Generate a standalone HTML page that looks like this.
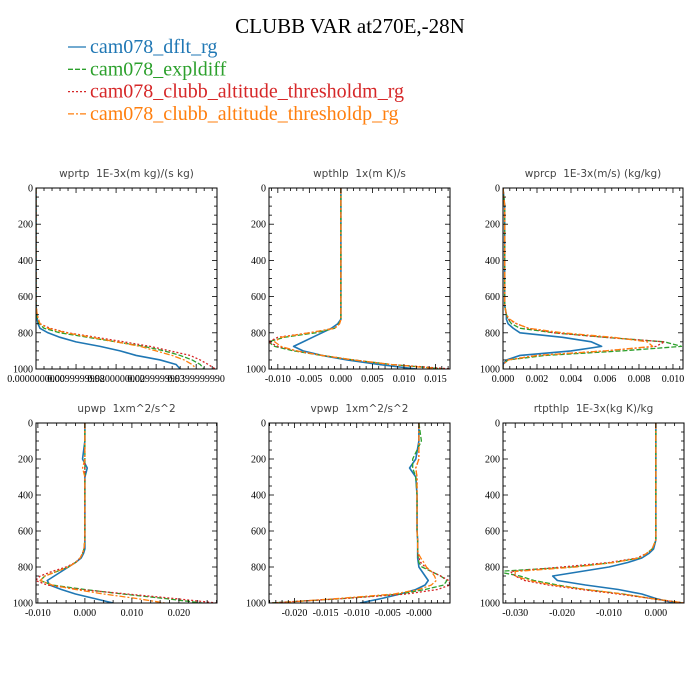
<!DOCTYPE html>
<html><head><meta charset="utf-8"><style>
body{margin:0;background:#fff;}
svg{display:block;}
</style></head><body>
<svg id="chart" width="700" height="700" viewBox="0 0 700 700" xmlns="http://www.w3.org/2000/svg">
<rect width="700" height="700" fill="#fff"/>
<text x="350" y="33" text-anchor="middle" font-family="Liberation Serif, serif" font-size="21">CLUBB VAR at270E,-28N</text>
<g id="legend"></g>
<g id="panels"></g>
</svg>
<script>
const levels = [0,100,200,250,300,400,500,600,650,700,725,750,775,800,825,850,875,900,925,950,975,1000];
const seriesNames = ["cam078_dflt_rg","cam078_expldiff","cam078_clubb_altitude_thresholdm_rg","cam078_clubb_altitude_thresholdp_rg"];

const wprtpBlue   = [0,0,0,0,0,0,0,0,0,0.0002,0.0003,0.0005,0.001,0.003,0.006,0.010,0.016,0.021,0.025,0.031,0.035,0.036];
const wprtpGreen  = [0,0,0,0,0,0,0,0,0,0.0002,0.0004,0.0008,0.002,0.006,0.013,0.020,0.027,0.032,0.036,0.039,0.041,0.042];
const wprtpRed    = [0,0,0,0,0,0,0,0,0,0.0003,0.0006,0.001,0.0035,0.008,0.015,0.022,0.0285,0.0335,0.0385,0.041,0.043,0.0448];
const wprtpOrange = [0,0,0,0,0,0,0,0,0,0.0003,0.0006,0.001,0.003,0.0075,0.014,0.020,0.026,0.030,0.034,0.037,0.039,0.040];

const wpthlpBlue   = [0,0,0,0,0,0,0,0,0,0,0,-0.0005,-0.0015,-0.003,-0.0045,-0.006,-0.0075,-0.006,-0.003,0.001,0.006,0.012];
const wpthlpGreen  = [0,0,0,0,0,0,0,0,0,0,0,-0.0003,-0.001,-0.004,-0.009,-0.0115,-0.0105,-0.0075,-0.003,0.002,0.008,0.0165];
const wpthlpRed    = [0,0,0,0,0,0,0,0,0,0,0,-0.0002,-0.001,-0.005,-0.010,-0.0115,-0.010,-0.007,-0.003,0.002,0.008,0.0175];
const wpthlpOrange = [0,0,0,0,0,0,0,0,0,0,0,-0.0002,-0.001,-0.005,-0.0095,-0.0105,-0.0095,-0.007,-0.003,0.002,0.008,0.016];

const wprcpBlue   = [0,0.0001,0.0001,0.0001,0.0001,0.0001,0.0001,0.0001,0.0001,0.0002,0.0002,0.0003,0.0006,0.001,0.0035,0.0052,0.0058,0.004,0.001,0.0002,0,0];
const wprcpGreen  = [0,0.0001,0.0001,0.0001,0.0001,0.0001,0.0001,0.0001,0.0001,0.0002,0.0003,0.0005,0.001,0.003,0.006,0.0095,0.0105,0.007,0.0025,0.0003,0,0];
const wprcpRed    = [0,0.0001,0.0001,0.0001,0.0001,0.0001,0.0001,0.0001,0.0001,0.0002,0.0003,0.0008,0.0015,0.003,0.006,0.0095,0.009,0.006,0.002,0.0003,0,0];
const wprcpOrange = [0,0.0001,0.0001,0.0001,0.0001,0.0001,0.0001,0.0001,0.0001,0.0002,0.0004,0.0008,0.0015,0.0035,0.0065,0.0085,0.0088,0.006,0.002,0.0003,0,0];

const upwpBlue   = [0,0,-0.0005,0.0005,0,0,0,0,0,0,-0.0003,-0.0008,-0.002,-0.0035,-0.005,-0.0065,-0.008,-0.0075,-0.005,-0.002,0.002,0.006];
const upwpGreen  = [0,0,0,0,0,0,0,0,0,-0.0002,-0.0005,-0.001,-0.002,-0.0035,-0.006,-0.0085,-0.0095,-0.007,0,0.008,0.017,0.025];
const upwpRed    = [0,0,0,0,0,0,0,0,0,-0.0002,-0.0005,-0.001,-0.002,-0.004,-0.007,-0.0095,-0.0105,-0.008,-0.001,0.009,0.019,0.028];
const upwpOrange = [0,0,0,-0.0005,0,0,0,0,0,-0.0002,-0.0005,-0.001,-0.002,-0.0035,-0.006,-0.0085,-0.0095,-0.007,-0.002,0.004,0.011,0.017];

const vpwpBlue   = [0,0,-0.0005,-0.0015,-0.0005,-0.0003,-0.0003,-0.0003,-0.0002,-0.0002,-0.0002,-0.0002,-0.0001,0,0.0005,0.001,0.0015,0.001,-0.0005,-0.003,-0.006,-0.0095];
const vpwpGreen  = [0,0.0004,-0.001,-0.001,-0.0005,-0.0003,-0.0003,-0.0003,-0.0002,-0.0002,-0.0002,-0.0001,0,0.0005,0.002,0.0035,0.0045,0.004,0.001,-0.003,-0.012,-0.024];
const vpwpRed    = [0,0,0,-0.0005,-0.0003,-0.0003,-0.0003,-0.0003,-0.0002,-0.0002,-0.0002,0,0.0003,0.001,0.002,0.0035,0.0048,0.005,0.003,-0.002,-0.012,-0.024];
const vpwpOrange = [0,0,0,-0.0005,-0.0003,-0.0003,-0.0003,-0.0003,-0.0002,-0.0002,-0.0001,0.0003,0.0008,0.0012,0.002,0.0025,0.0028,0.002,0,-0.004,-0.013,-0.023];

const rtpthlpBlue   = [0,0,0,0,0,0,0,0,0,-0.0005,-0.0015,-0.003,-0.006,-0.010,-0.016,-0.022,-0.021,-0.015,-0.008,-0.003,0,0.004];
const rtpthlpGreen  = [0,0,0,0,0,0,0,0,0,-0.0008,-0.002,-0.0035,-0.009,-0.018,-0.034,-0.029,-0.026,-0.021,-0.015,-0.007,-0.001,0.006];
const rtpthlpRed    = [0,0,0,0,0,0,0,0,0,-0.0008,-0.002,-0.004,-0.010,-0.020,-0.031,-0.030,-0.028,-0.023,-0.016,-0.008,-0.001,0.006];
const rtpthlpOrange = [0,0,0,0,0,0,0,0,0,-0.0008,-0.002,-0.0035,-0.009,-0.017,-0.030,-0.030,-0.027,-0.022,-0.015,-0.007,-0.001,0.006];

const yTicks = [0,200,400,600,800,1000];
const ticks1 = ["0.0000000000","0.0099999998","0.0200000000","0.0299999993","0.0399999990"];
const ticks2 = ["-0.010","-0.005","0.000","0.005","0.010","0.015"];
const ticks3 = ["0.000","0.002","0.004","0.006","0.008","0.010"];
const ticks4 = ["-0.010","0.000","0.010","0.020"];
const ticks5 = ["-0.020","-0.015","-0.010","-0.005","-0.000"];
const ticks6 = ["-0.030","-0.020","-0.010","0.000"];

const colors = ["#1f77b4","#2ca02c","#d62728","#ff7f0e"];
const dashes = ["none","5,2","2,2","6,2,2,2"];
const NS = "http://www.w3.org/2000/svg";
const svg = document.getElementById('chart');
const panelsG = document.getElementById('panels');
const legendG = document.getElementById('legend');

function mk(tag, attrs, parent){const e=document.createElementNS(NS,tag);for(const k in attrs)e.setAttribute(k,attrs[k]);parent.appendChild(e);return e;}

seriesNames.forEach((n,i)=>{
  const y=53+i*22.3;
  const ln=mk('line',{x1:68,x2:86,y1:y-6,y2:y-6,stroke:colors[i],'stroke-width':1.3,'stroke-dasharray':dashes[i]},legendG);
  
  
  const t=mk('text',{x:90,y:y,'font-family':'Liberation Serif, serif','font-size':20,fill:colors[i]},legendG);
  t.textContent=n;
  
  
});

const panels = [
 {name:'wprtp',title:'wprtp  1E-3x(m kg)/(s kg)',x0:36,x1:217,y0:188,y1:369,xmin:0,xmax:0.0452,t0:0,step:0.01,labels:ticks1,series:[wprtpBlue,wprtpGreen,wprtpRed,wprtpOrange]},
 {name:'wpthlp',title:'wpthlp  1x(m K)/s',x0:269,x1:450,y0:188,y1:369,xmin:-0.0114,xmax:0.0173,t0:-0.010,step:0.005,labels:ticks2,series:[wpthlpBlue,wpthlpGreen,wpthlpRed,wpthlpOrange]},
 {name:'wprcp',title:'wprcp  1E-3x(m/s) (kg/kg)',x0:503,x1:683,y0:188,y1:369,xmin:0,xmax:0.01059,t0:0,step:0.002,labels:ticks3,series:[wprcpBlue,wprcpGreen,wprcpRed,wprcpOrange]},
 {name:'upwp',title:'upwp  1xm^2/s^2',x0:36,x1:217,y0:423,y1:603,xmin:-0.0104,xmax:0.0281,t0:-0.010,step:0.01,labels:ticks4,series:[upwpBlue,upwpGreen,upwpRed,upwpOrange]},
 {name:'vpwp',title:'vpwp  1xm^2/s^2',x0:269,x1:450,y0:423,y1:603,xmin:-0.0241,xmax:0.005,t0:-0.020,step:0.005,labels:ticks5,series:[vpwpBlue,vpwpGreen,vpwpRed,vpwpOrange]},
 {name:'rtpthlp',title:'rtpthlp  1E-3x(kg K)/kg',x0:503,x1:684,y0:423,y1:603,xmin:-0.0326,xmax:0.006,t0:-0.030,step:0.01,labels:ticks6,series:[rtpthlpBlue,rtpthlpGreen,rtpthlpRed,rtpthlpOrange]}
];

panels.forEach((p,pi)=>{
  const g=mk('g',{},panelsG);
  
  
  const xs=v=>p.x0+(v-p.xmin)/(p.xmax-p.xmin)*(p.x1-p.x0);
  const ys=v=>p.y0+v/1000*(p.y1-p.y0);
  const tt=mk('text',{x:(p.x0+p.x1)/2,y:p.y0-11,'text-anchor':'middle','font-family':'DejaVu Sans, sans-serif','font-size':10.5,fill:'#444','xml:space':'preserve','style':'white-space:pre'},g);
  tt.textContent=p.title;
  
  
  const cid='clip'+pi;
  const cp=mk('clipPath',{id:cid},g);
  mk('rect',{x:p.x0,y:p.y0,width:p.x1-p.x0,height:p.y1-p.y0},cp);
  p.series.forEach((s,si)=>{
    const pts=s.map((v,i)=>xs(v).toFixed(2)+','+ys(levels[i]).toFixed(2)).join(' ');
    const pl=mk('polyline',{points:pts,fill:'none',stroke:colors[si],'stroke-width':si==0?1.6:1.3,'stroke-dasharray':dashes[si],'clip-path':'url(#'+cid+')','stroke-linejoin':'round'},g);
    
    
  });
  const fr=mk('rect',{x:p.x0,y:p.y0,width:p.x1-p.x0,height:p.y1-p.y0,fill:'none',stroke:'#000','stroke-width':1},g);
  
  
  for(let v=0;v<=1000;v+=50){
    const L=(v%200==0)?5:3, y=ys(v);
    mk('line',{x1:p.x0,x2:p.x0+L,y1:y,y2:y,stroke:'#000','stroke-width':0.8},g);
    mk('line',{x1:p.x1,x2:p.x1-L,y1:y,y2:y,stroke:'#000','stroke-width':0.8},g);
  }
  yTicks.forEach(v=>{
    const t=mk('text',{x:p.x0-3,y:ys(v)+3.5,'text-anchor':'end','font-family':'Liberation Serif, serif','font-size':10},g);
    t.textContent=v;
    
    
  });
  const minor=p.step/5;
  for(let k=Math.ceil((p.xmin-p.t0)/minor-1e-6);;k++){
    const v=p.t0+k*minor; if(v>p.xmax+1e-9)break;
    const major=Math.abs(k%5)==0, L=major?5:3, x=xs(v);
    mk('line',{x1:x,x2:x,y1:p.y1,y2:p.y1-L,stroke:'#000','stroke-width':0.8},g);
    mk('line',{x1:x,x2:x,y1:p.y0,y2:p.y0+L,stroke:'#000','stroke-width':0.8},g);
  }
  p.labels.forEach((lab,i)=>{
    const t=mk('text',{x:xs(p.t0+i*p.step),y:p.y1+13,'text-anchor':'middle','font-family':'Liberation Serif, serif','font-size':10},g);
    t.textContent=lab;
    
    
  });
});
</script>
</body></html>
